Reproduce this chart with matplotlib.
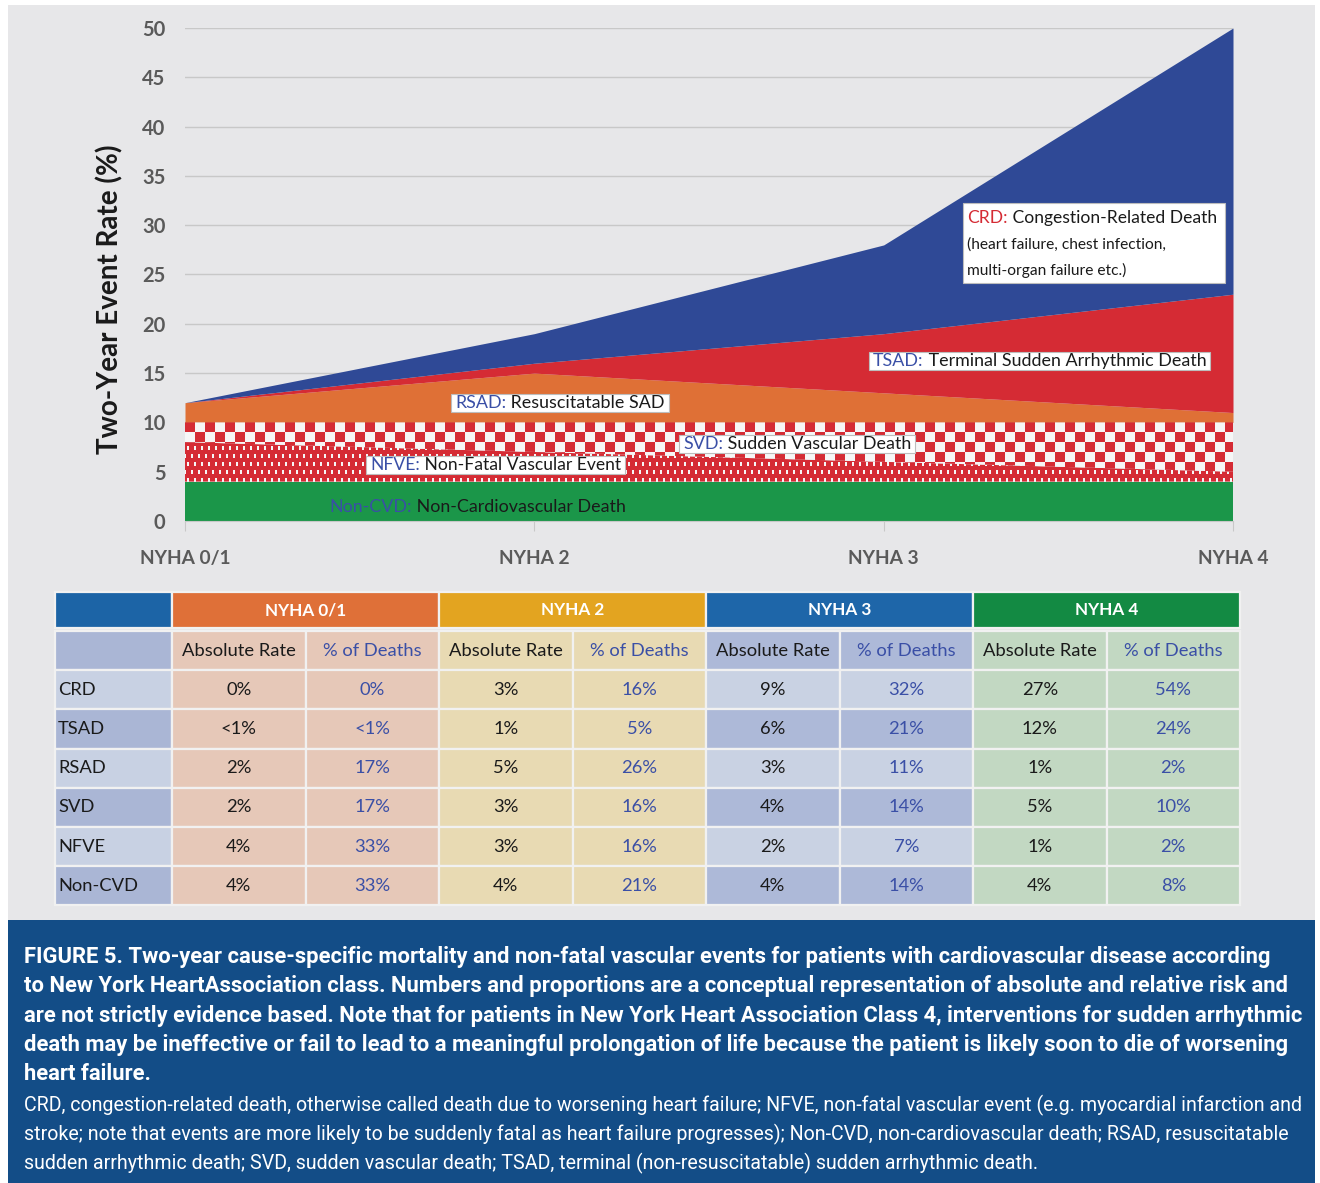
import matplotlib
matplotlib.use('Agg')
import matplotlib.pyplot as plt
import numpy as np
from matplotlib.patches import Rectangle
from matplotlib.transforms import Bbox

plt.rcParams['font.family'] = ['Lato', 'DejaVu Sans']

W, H = 1320, 1183

# categories
classes = ['NYHA 0/1', 'NYHA 2', 'NYHA 3', 'NYHA 4']
causes = ['CRD', 'TSAD', 'RSAD', 'SVD', 'NFVE', 'Non-CVD']

# two-year event rates (%) for the stacked areas, bottom to top
non_cvd = [4, 4, 4, 4]
nfve = [4, 3, 2, 1]
svd = [2, 3, 4, 5]
rsad = [2, 5, 3, 1]
tsad = [0, 1, 6, 12]
crd = [0, 3, 9, 27]

# table text, one row per cause, one entry per class
abs_rate = [['0%', '3%', '9%', '27%'],
            ['<1%', '1%', '6%', '12%'],
            ['2%', '5%', '3%', '1%'],
            ['2%', '3%', '4%', '5%'],
            ['4%', '3%', '2%', '1%'],
            ['4%', '4%', '4%', '4%']]
pct_deaths = [['0%', '16%', '32%', '54%'],
              ['<1%', '5%', '21%', '24%'],
              ['17%', '26%', '11%', '2%'],
              ['17%', '16%', '14%', '10%'],
              ['33%', '16%', '7%', '2%'],
              ['33%', '21%', '14%', '8%']]

# colours
GREEN = '#1b9649'
RED = '#d52b34'
ORANGE = '#df7036'
NAVY = '#2f4996'
KEYBLUE = '#3a4fa6'
GREY_TXT = '#5a5a5a'
INK = '#1a1a1a'

fig = plt.figure(figsize=(W / 100, H / 100), dpi=100)

# full figure overlay in pixel units (for panels, table, caption)
bg = fig.add_axes([0, 0, 1, 1], zorder=0)
bg.set_xlim(0, W)
bg.set_ylim(H, 0)
bg.axis('off')
bg.add_patch(Rectangle((8, 5), 1307, 915, color='#e7e7e9', lw=0))
bg.add_patch(Rectangle((8, 920), 1307, 263, color='#134d87', lw=0))

# ---------------- stacked area chart ----------------
ax = fig.add_axes([185 / W, 1 - 521 / H, 1048 / W, 493 / H], zorder=1)
ax.set_facecolor('none')
x = np.arange(len(classes))

layers = [non_cvd, nfve, svd, rsad, tsad, crd]
bounds = []
base = np.zeros(len(classes))
for layer in layers:
    top = base + np.array(layer, dtype=float)
    bounds.append((base.copy(), top))
    base = top

ax.fill_between(x, *bounds[0], color=GREEN, lw=0, zorder=2)
ax.fill_between(x, *bounds[3], color=ORANGE, lw=0, zorder=2)
ax.fill_between(x, *bounds[4], color=RED, lw=0, zorder=2)
ax.fill_between(x, *bounds[5], color=NAVY, lw=0, zorder=2)


def texture(kind, rows=493, cols=1048):
    r, c = np.mgrid[0:rows, 0:cols]
    if kind == 'check':
        r0 = int(round(rows * 40 / 50))
        white = (((r - r0) // 10) + (c // 10)) % 2 == 1
    else:
        blk = (r // 8) % 2
        cc = (c + blk * 3) % 7
        rr = r % 8
        white = (cc >= 2) & (cc <= 3) & (rr >= 2) & (rr <= 5)
    img = np.empty((rows, cols, 3))
    img[:] = np.array([213, 43, 52]) / 255
    img[white] = np.array([246, 246, 246]) / 255
    return img


for idx, kind in [(1, 'dots'), (2, 'check')]:
    poly = ax.fill_between(x, *bounds[idx], facecolor='none', edgecolor='none')
    im = ax.imshow(texture(kind), extent=[0, 3, 0, 50], aspect='auto',
                   interpolation='nearest', zorder=2)
    im.set_clip_path(poly.get_paths()[0], ax.transData)

ax.set_xlim(0, 3)
ax.set_ylim(0, 50)
ax.set_yticks(np.arange(0, 51, 5))
ax.set_xticks(x)
ax.set_xticklabels(classes)
ax.grid(axis='y', color='#c8c8c8', lw=1)
ax.set_axisbelow(True)
for s in ['left', 'right', 'top']:
    ax.spines[s].set_visible(False)
ax.spines['bottom'].set_color('#c8c8c8')
ax.tick_params(axis='y', length=0, pad=14, labelsize=14.5, labelcolor=GREY_TXT)
ax.tick_params(axis='x', length=7, color='#c8c8c8', pad=14, labelsize=13.8,
               labelcolor=GREY_TXT)
for lab in ax.get_xticklabels() + ax.get_yticklabels():
    lab.set_fontweight('bold')

fig.text(110 / W, 1 - 299 / H, 'Two-Year Event Rate (%)', rotation=90,
         ha='center', va='center', fontsize=20, fontweight='bold', color=INK)

boxed = []


def tag(px, py, key, key_col, rest, size=12.9, box=True):
    t = ax.text(px, py, key, transform=bg.transData, color=key_col, ha='left',
                va='center', fontsize=size, zorder=6)
    a = ax.annotate(' ' + rest, xy=(1, 0), xycoords=t, ha='left', va='bottom',
                    fontsize=size, color=INK, zorder=6)
    if box:
        boxed.append((t, a))


# CRD box with two extra lines
ax.add_patch(Rectangle((963, 203), 262, 80, transform=bg.transData, fc='white',
                       ec='#bdbdbd', lw=0.8, zorder=5))
tag(967, 218, 'CRD:', RED, 'Congestion-Related Death', size=12.6, box=False)
ax.text(967, 245, '(heart failure, chest infection,', transform=bg.transData,
        ha='left', va='center', fontsize=11.2, color=INK, zorder=6)
ax.text(967, 270, 'multi-organ failure etc.)', transform=bg.transData,
        ha='left', va='center', fontsize=11.2, color=INK, zorder=6)

tag(873, 361, 'TSAD:', KEYBLUE, 'Terminal Sudden Arrhythmic Death')
tag(455, 403, 'RSAD:', KEYBLUE, 'Resuscitatable SAD')
tag(683, 444, 'SVD:', KEYBLUE, 'Sudden Vascular Death')
tag(370, 465, 'NFVE:', KEYBLUE, 'Non-Fatal Vascular Event', size=12.6)
tag(329, 507, 'Non-CVD:', KEYBLUE, 'Non-Cardiovascular Death', box=False)

# white boxes sized to the label texts
fig.canvas.draw()
rend = fig.canvas.get_renderer()
inv = bg.transData.inverted()
for t, a in boxed:
    bb = Bbox.union([t.get_window_extent(rend), a.get_window_extent(rend)])
    (x1, y1), (x2, y2) = inv.transform([[bb.x0, bb.y0], [bb.x1, bb.y1]])
    ax.add_patch(Rectangle((x1 - 4, y2 - 1), (x2 - x1) + 8, (y1 - y2) + 2,
                           transform=bg.transData, fc='white', ec='#bdbdbd',
                           lw=0.8, zorder=5))

# ---------------- table ----------------
x0, first_w, sub_w = 55, 117, 133.5
head_top, head_h = 592, 36
row_top, row_h = 631, 39.2
head_cols = ['#1c64a6', '#df7038', '#e3a420', '#1e66a9', '#138a43']
cell_cols = [('#e6c8b8', '#e6c8b8'), ('#e8dab3', '#e8dab3'),
             ('#adb9d8', '#c9d2e3'), ('#c2d8c2', '#c2d8c2')]
first_cols = ('#aab6d5', '#c8d1e3')
EDGE = '#f1f1f1'


def cell(xl, yt, w, h, fc):
    bg.add_patch(Rectangle((xl, yt), w, h, fc=fc, ec=EDGE, lw=1.6))


cell(x0, head_top, first_w, head_h, head_cols[0])
for g, name in enumerate(classes):
    gx = x0 + first_w + g * 2 * sub_w
    cell(gx, head_top, 2 * sub_w, head_h, head_cols[g + 1])
    bg.text(gx + sub_w, head_top + head_h / 2, name, ha='center', va='center',
            fontsize=12.3, fontweight='bold', color='white')

sub_rows = [['Absolute Rate', '% of Deaths']] + \
    [[a, p] for a, p in zip(abs_rate, pct_deaths)]
labels = [''] + causes
for k, lab in enumerate(labels):
    yt = row_top + k * row_h
    yc = yt + row_h / 2
    cell(x0, yt, first_w, row_h, first_cols[k % 2])
    bg.text(x0 + 3, yc, lab, ha='left', va='center', fontsize=13.2, color=INK)
    for g in range(len(classes)):
        for j in range(2):
            cx = x0 + first_w + (2 * g + j) * sub_w
            cell(cx, yt, sub_w, row_h, cell_cols[g][k % 2])
            if k == 0:
                txt = sub_rows[0][j]
            else:
                txt = sub_rows[k][j][g]
            bg.text(cx + sub_w / 2, yc, txt, ha='center', va='center',
                    fontsize=13.2, color=INK if j == 0 else KEYBLUE)

# ---------------- caption ----------------
bold_lines = [
    'FIGURE 5. Two-year cause-specific mortality and non-fatal vascular events for patients with cardiovascular disease according',
    'to New York HeartAssociation class. Numbers and proportions are a conceptual representation of absolute and relative risk and',
    'are not strictly evidence based. Note that for patients in New York Heart Association Class 4, interventions for sudden arrhythmic',
    'death may be ineffective or fail to lead to a meaningful prolongation of life because the patient is likely soon to die of worsening',
    'heart failure.',
]
plain_lines = [
    'CRD, congestion-related death, otherwise called death due to worsening heart failure; NFVE, non-fatal vascular event (e.g. myocardial infarction and',
    'stroke; note that events are more likely to be suddenly fatal as heart failure progresses); Non-CVD, non-cardiovascular death; RSAD, resuscitatable',
    'sudden arrhythmic death; SVD, sudden vascular death; TSAD, terminal (non-resuscitatable) sudden arrhythmic death.',
]
for i, line in enumerate(bold_lines):
    bg.text(24, 957 + i * 29.3, line, ha='left', va='center', fontsize=15.85,
            fontweight='bold', color='white', family=['Roboto', 'DejaVu Sans'])
for i, line in enumerate(plain_lines):
    bg.text(24, 1105 + i * 29.2, line, ha='left', va='center', fontsize=14.1,
            color='white', family=['Roboto', 'DejaVu Sans'])

fig.savefig('out.png', dpi=100)
